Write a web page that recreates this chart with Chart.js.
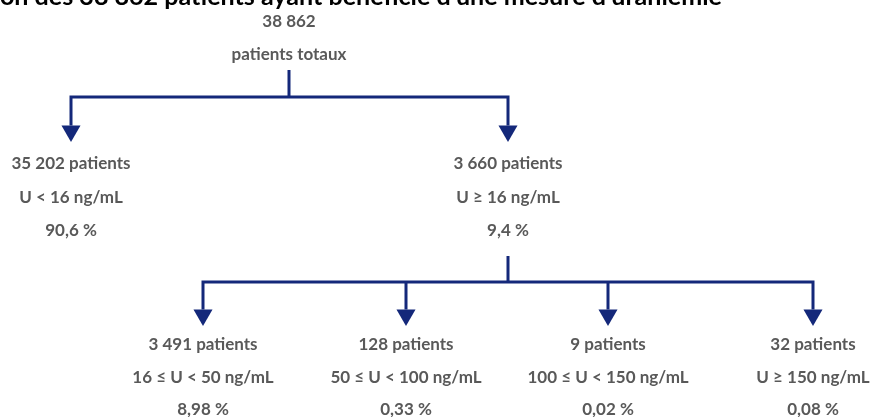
<!DOCTYPE html>
<html lang="fr">
<head>
<meta charset="utf-8">
<title>Répartition des patients selon l'uraniémie</title>
<script src="https://cdn.jsdelivr.net/npm/chart.js@4.4.1/dist/chart.umd.min.js"></script>
<style>
    html, body { margin: 0; padding: 0; background: #ffffff; }
    #wrap { width: 870px; height: 417px; position: relative; overflow: hidden; }
</style>
</head>
<body>
<div id="wrap"><canvas id="treeChart" width="870" height="417"></canvas></div>
<script>
// ---- data ----
const chartTitle = "Répartition des 38 862 patients ayant bénéficié d'une mesure d'uraniémie";
const titleVisiblePart = "on des 38 862 patients ayant bénéficié d'une mesure d'uraniémie";
const totalPatients = 38862;
const level1Counts = [35202, 3660];
const level1Ranges = ['U < 16 ng/mL', 'U ≥ 16 ng/mL'];
const level1Shares = [90.6, 9.4];
const level2Counts = [3491, 128, 9, 32];
const level2Ranges = ['16 ≤ U < 50 ng/mL', '50 ≤ U < 100 ng/mL', '100 ≤ U < 150 ng/mL', 'U ≥ 150 ng/mL'];
const level2Shares = [8.98, 0.33, 0.02, 0.08];

// ---- layout (px in a 870x417 frame) ----
const rootX = 289;
const level1X = [71, 508];
const level2X = [203, 406, 608, 813];
const parentOfLevel2 = 1;      // the U >= 16 branch is split further
const rootTextY = [22, 55];
const rootStem = [70, 97];     // stem top, bar y
const level1ArrowTip = 142;
const level1TextY = [164, 198, 231];
const level2Stem = [256, 282];
const level2ArrowTip = 326;
const level2TextY = [345, 378, 410];
const arrowR = 11;

const navy = '#14287a';
const grey = '#595959';

function fmtInt(n) {
    return String(n).replace(/\B(?=(\d{3})+(?!\d))/g, ' ');
}
function fmtPct(v, d) {
    return v.toFixed(d).replace('.', ',') + ' %';
}

// connector paths, each one a small line dataset
function lineSet(points) {
    return {
        type: 'line',
        data: points,
        borderColor: navy,
        borderWidth: 3,
        pointRadius: 0,
        fill: false,
        tension: 0,
        borderCapStyle: 'butt',
        borderJoinStyle: 'miter'
    };
}

const datasets = [];
// root stem and bar
datasets.push(lineSet([{x: rootX, y: rootStem[0]}, {x: rootX, y: rootStem[1]}]));
datasets.push(lineSet([
    {x: level1X[0], y: level1ArrowTip - arrowR * 1.5},
    {x: level1X[0], y: rootStem[1]},
    {x: level1X[1], y: rootStem[1]},
    {x: level1X[1], y: level1ArrowTip - arrowR * 1.5}
]));
// second split
datasets.push(lineSet([{x: level1X[parentOfLevel2], y: level2Stem[0]}, {x: level1X[parentOfLevel2], y: level2Stem[1]}]));
datasets.push(lineSet([
    {x: level2X[0], y: level2ArrowTip - arrowR * 1.5},
    {x: level2X[0], y: level2Stem[1]},
    {x: level2X[3], y: level2Stem[1]},
    {x: level2X[3], y: level2ArrowTip - arrowR * 1.5}
]));
level2X.slice(1, 3).forEach(x => {
    datasets.push(lineSet([{x: x, y: level2Stem[1]}, {x: x, y: level2ArrowTip - arrowR * 1.5}]));
});
// arrowheads
datasets.push({
    type: 'scatter',
    data: level1X.map(x => ({x: x, y: level1ArrowTip - arrowR}))
        .concat(level2X.map(x => ({x: x, y: level2ArrowTip - arrowR}))),
    pointStyle: 'triangle',
    rotation: 180,
    pointRadius: arrowR,
    pointHoverRadius: arrowR,
    backgroundColor: navy,
    borderColor: navy,
    borderWidth: 0
});

// text of every node + the (cropped) title
const labelsPlugin = {
    id: 'treeLabels',
    afterDatasetsDraw(chart) {
        const ctx = chart.ctx;
        const sx = chart.scales.x, sy = chart.scales.y;
        ctx.save();
        ctx.textAlign = 'center';
        ctx.textBaseline = 'middle';
        ctx.fillStyle = grey;
        ctx.font = 'bold 17px Lato, "Open Sans", sans-serif';

        function block(x, ys, lines) {
            lines.forEach((t, i) => ctx.fillText(t, sx.getPixelForValue(x), sy.getPixelForValue(ys[i])));
        }
        block(rootX, rootTextY, [fmtInt(totalPatients), 'patients totaux']);
        level1X.forEach((x, i) => {
            block(x, level1TextY, [fmtInt(level1Counts[i]) + ' patients', level1Ranges[i], fmtPct(level1Shares[i], 1)]);
        });
        level2X.forEach((x, i) => {
            block(x, level2TextY, [fmtInt(level2Counts[i]) + ' patients', level2Ranges[i], fmtPct(level2Shares[i], 2)]);
        });

        // title sits above the frame, only its lower part shows;
        // its visible part runs from the left edge to x = 722
        ctx.fillStyle = '#000000';
        ctx.font = 'bold 24px Lato, "Open Sans", sans-serif';
        const size = 24 * 722 / ctx.measureText(titleVisiblePart).width;
        ctx.font = 'bold ' + size.toFixed(2) + 'px Lato, "Open Sans", sans-serif';
        ctx.textAlign = 'right';
        ctx.textBaseline = 'alphabetic';
        ctx.fillText(chartTitle, 722, 5);
        ctx.restore();
    }
};

new Chart(document.getElementById('treeChart'), {
    type: 'scatter',
    data: { datasets: datasets },
    options: {
        responsive: false,
        animation: false,
        events: [],
        layout: { padding: 0, autoPadding: false },
        plugins: {
            legend: { display: false },
            tooltip: { enabled: false },
            title: { display: false }
        },
        scales: {
            x: { type: 'linear', min: 0, max: 870, display: false },
            y: { type: 'linear', min: 0, max: 417, reverse: true, display: false }
        }
    },
    plugins: [labelsPlugin]
});
</script>
</body>
</html>
